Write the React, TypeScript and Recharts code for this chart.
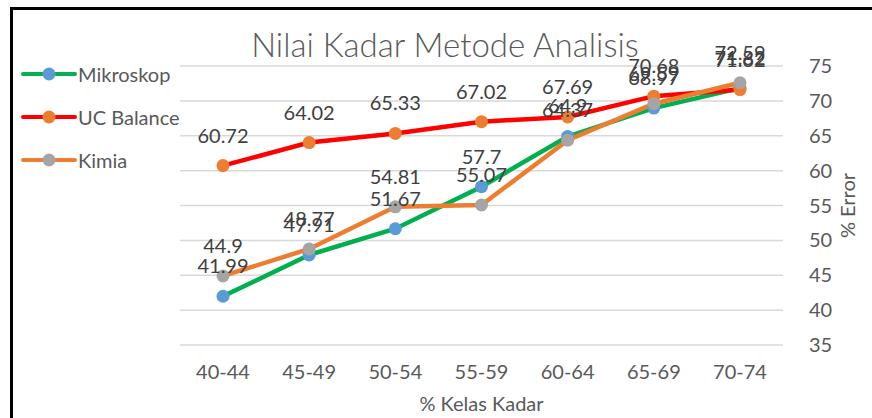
import { LineChart, Line, XAxis, YAxis, CartesianGrid, LabelList } from 'recharts';

const categories = ['40-44', '45-49', '50-54', '55-59', '60-64', '65-69', '70-74'];
const mikroskop = [41.99, 47.91, 51.67, 57.7, 64.9, 68.97, 71.82];
const ucBalance = [60.72, 64.02, 65.33, 67.02, 67.69, 70.68, 71.62];
const kimia = [44.9, 48.77, 54.81, 55.07, 64.37, 69.59, 72.59];
const yTicks = [35, 40, 45, 50, 55, 60, 65, 70, 75];

const series = [
  { key: 'mikroskop', name: 'Mikroskop', line: '#00B050', marker: '#5B9BD5' },
  { key: 'ucBalance', name: 'UC Balance', line: '#FF0000', marker: '#ED7D31' },
  { key: 'kimia', name: 'Kimia', line: '#ED7D31', marker: '#A5A5A5' },
];

const data = categories.map((kelas, i) => ({
  kelas,
  mikroskop: mikroskop[i],
  ucBalance: ucBalance[i],
  kimia: kimia[i],
}));

const FONT = 'Lato, "Open Sans", sans-serif';
const AXIS_COLOR = '#595959';

const ChartLegend = () => (
  <div style={{ position: 'absolute', left: 20, top: 52, fontFamily: FONT }}>
    {series.map((s) => (
      <div key={s.key} style={{ display: 'flex', alignItems: 'center', height: 43 }}>
        <svg width={58} height={16}>
          <line x1={3} y1={8} x2={55} y2={8} stroke={s.line} strokeWidth={4} strokeLinecap="round" />
          <circle cx={29} cy={8} r={6.5} fill={s.marker} />
        </svg>
        <span style={{ fontSize: 20, color: AXIS_COLOR }}>{s.name}</span>
      </div>
    ))}
  </div>
);

export default function App() {
  return (
    <div
      style={{
        position: 'absolute',
        left: 0,
        top: 0,
        width: 872,
        height: 418,
        overflow: 'hidden',
        background: '#fff',
        fontFamily: FONT,
      }}
    >
      <div
        style={{
          position: 'absolute',
          left: 10,
          top: 7,
          width: 900,
          height: 450,
          border: '3px solid #000',
        }}
      />
      <LineChart
        width={872}
        height={418}
        data={data}
        margin={{ top: 66, right: 19, left: 180, bottom: 3 }}
      >
        <CartesianGrid vertical={false} stroke="#D9D9D9" strokeWidth={1.5} />
        <XAxis
          dataKey="kelas"
          axisLine={false}
          tickLine={false}
          height={70}
          tickMargin={14}
          padding={{ left: 43, right: 43 }}
          tick={{ fill: AXIS_COLOR, fontSize: 20, fontFamily: FONT }}
          label={{
            value: '% Kelas Kadar',
            position: 'insideBottom',
            offset: 4,
            fill: AXIS_COLOR,
            fontSize: 20,
            fontFamily: FONT,
          }}
        />
        <YAxis
          orientation="right"
          domain={[35, 75]}
          ticks={yTicks}
          axisLine={false}
          tickLine={false}
          width={70}
          tickMargin={20}
          tick={{ fill: AXIS_COLOR, fontSize: 20, fontFamily: FONT }}
          label={{
            value: '% Error',
            angle: -90,
            position: 'center',
            dx: 30,
            fill: AXIS_COLOR,
            fontSize: 20,
            fontFamily: FONT,
          }}
        />
        {series.map((s) => (
          <Line
            key={s.key}
            type="linear"
            dataKey={s.key}
            name={s.name}
            stroke={s.line}
            strokeWidth={4.5}
            dot={{ r: 6.5, fill: s.marker, stroke: s.marker, strokeWidth: 0 }}
            activeDot={false}
            isAnimationActive={false}
          >
            <LabelList
              dataKey={s.key}
              position="top"
              offset={23}
              fill="#404040"
              fontSize={20}
              fontFamily={FONT}
            />
          </Line>
        ))}
      </LineChart>
      <div
        style={{
          position: 'absolute',
          left: 0,
          width: 890,
          top: 25,
          textAlign: 'center',
          fontSize: 33,
          fontWeight: 300,
          color: AXIS_COLOR,
          lineHeight: '38px',
        }}
      >
        Nilai Kadar Metode Analisis
      </div>
      <ChartLegend />
    </div>
  );
}
